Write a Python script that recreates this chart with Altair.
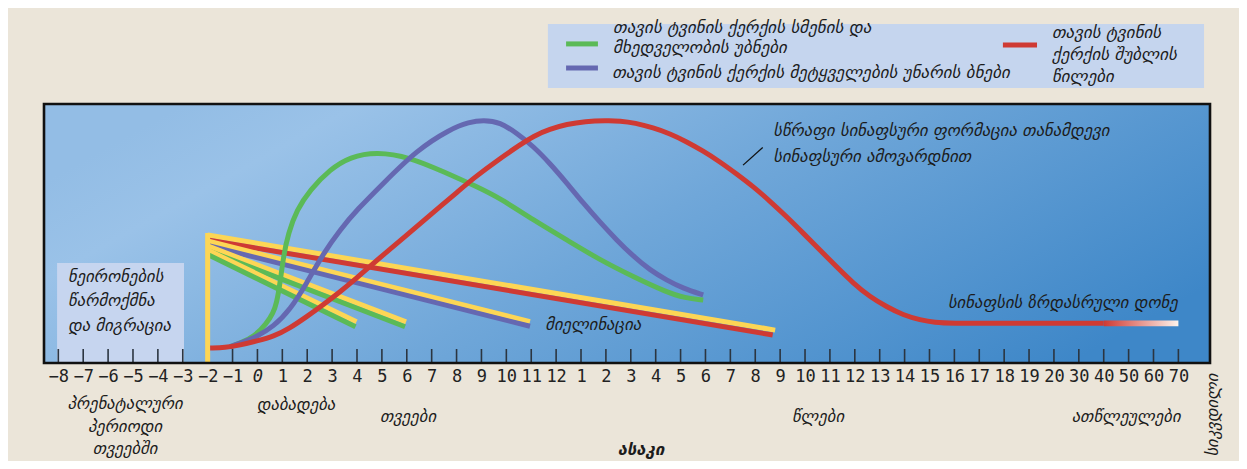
import altair as alt
import pandas as pd

# ---------------- data ----------------
TICK_LABELS = ["−8", "−7", "−6", "−5", "−4", "−3", "−2", "−1", "0",
               "1", "2", "3", "4", "5", "6", "7", "8", "9", "10", "11", "12",
               "1", "2", "3", "4", "5", "6", "7", "8", "9", "10", "11", "12", "13", "14",
               "15", "16", "17", "18", "19", "20",
               "30", "40", "50", "60", "70"]
TICK_POS = list(range(len(TICK_LABELS)))
BIRTH_POS = 8

# frontal cortex (red)
RED_X = [6.1, 6.70, 7.30, 7.98, 8.64, 9.31, 9.98, 10.63, 11.32, 11.99, 12.66, 13.33, 14.0, 14.65,
         15.33, 16.01, 16.67, 17.75, 18.55, 19.08, 19.75, 20.43, 21.16, 22.03, 22.57, 23.17, 23.90,
         24.57, 25.25, 25.90, 26.58, 27.25, 27.92, 28.59, 29.26, 29.92, 30.60, 31.27, 31.94, 32.61,
         33.28, 33.94, 34.63, 35.23, 35.83, 37.83, 42.0]
RED_Y = [5.8, 5.9, 6.9, 8.5, 10.2, 13.5, 17.9, 22.4, 27.5, 32.8, 38.5, 44.0, 49.4, 54.8,
         60.3, 65.8, 71.3, 79.0, 84.2, 87.6, 90.3, 92.2, 93.3, 93.6, 93.5, 92.7, 90.8,
         88.6, 85.4, 81.9, 77.7, 73.0, 68.1, 62.5, 56.5, 50.2, 43.6, 37.1, 30.8, 25.5,
         21.7, 18.5, 16.6, 15.6, 15.3, 15.3, 15.3]
# auditory & visual cortex (green)
GREEN_X = [6.9, 7.30, 7.90, 8.37, 8.63, 8.77, 8.91, 9.04, 9.24, 9.58, 10.11, 10.92, 11.72, 12.79,
           14.13, 15.47, 16.81, 17.75, 19.08, 20.43, 21.76, 23.10, 24.44, 25.18, 25.91]
GREEN_Y = [6.3, 7.6, 10.4, 15.3, 19.3, 23.0, 30.8, 41.0, 50.1, 59.1, 66.8, 74.8, 79.6, 81.6,
           79.4, 73.9, 68.1, 63.6, 55.2, 47.5, 39.8, 33.3, 27.3, 25.1, 24.3]
# language cortex (purple)
PURPLE_X = [6.9, 7.30, 7.94, 8.64, 9.31, 9.98, 10.65, 11.32, 11.99, 13.06, 14.40, 15.74, 16.5, 17.08,
            17.75, 18.42, 19.07, 19.75, 20.43, 21.09, 21.76, 22.43, 23.09, 23.77, 24.44, 25.11, 25.91]
PURPLE_Y = [6.3, 7.6, 10.0, 14.0, 20.5, 30.8, 42.4, 51.4, 59.1, 69.4, 82.2, 90.3, 93.0, 93.8,
            93.0, 88.7, 83.8, 77.1, 69.5, 61.7, 54.4, 47.5, 41.3, 35.9, 32.0, 28.8, 26.3]

# myelination fan (yellow + coloured pairs)
FAN_KEYS = ["yellow", "red", "yellow", "purple", "yellow", "green", "yellow", "green"]
FAN_X0 = [6, 6, 6, 6, 6, 6, 6, 6]
FAN_Y0 = [49.4, 47.5, 47.1, 45.4, 45.2, 43.4, 43.6, 41.9]
FAN_X1 = [28.8, 28.7, 18.95, 18.95, 13.97, 13.93, 11.98, 11.94]
FAN_Y1 = [12.7, 10.8, 16.0, 14.2, 15.9, 14.0, 15.9, 14.0]

# neurogenesis vertical line
NEURO_X = [6, 6]
NEURO_Y = [0, 50.2]

# adult synapse level fading out
FADE_X = [42, 45]
ADULT_LEVEL = 15.3

# texts
LEGEND_TEXT = ["თავის ტვინის ქერქის სმენის და", "მხედველობის უბნები",
               "თავის ტვინის ქერქის მეტყველების უნარის ბნები",
               "თავის ტვინის", "ქერქის შუბლის", "წილები"]
LEGEND_TX = [22.29, 22.29, 22.25, 39.92, 39.92, 39.92]
LEGEND_TY = [129.3, 121.6, 112.0, 127.4, 118.9, 110.4]
SWATCH_KEYS = ["green", "purple", "red"]
SWATCH_X0 = [20.40, 20.40, 37.95]
SWATCH_X1 = [21.68, 21.68, 39.32]
SWATCH_Y = [123.2, 113.9, 122.8]
LEGEND_BOX = dict(x=19.67, x2=46.03, y=106.2, y2=130.9)

NOTE_TEXT = ["ნეირონების", "წარმოქმნა", "და მიგრაცია", "მიელინაცია",
             "სწრაფი სინაფსური ფორმაცია თანამდევი", "სინაფსური ამოვარდნით",
             "სინაფსის ზრდასრული დონე"]
NOTE_X = [0.39, 0.39, 0.39, 19.56, 28.72, 28.72, 35.74]
NOTE_Y = [33.2, 23.9, 14.3, 14.7, 89.6, 79.5, 23.2]
NEURO_BOX = dict(x=-0.05, x2=5.05, y=0, y2=38.6)
SLASH = dict(x=27.51, x2=28.30, y=76.4, y2=83.2)

BELOW_TEXT = ["პრენატალური", "პერიოდი", "თვეებში", "დაბადება", "თვეები", "წლები", "ათწლეულები"]
BELOW_X = [2.68, 2.68, 2.68, 9.55, 14.05, 30.52, 42.9]
BELOW_Y = [-15.8, -24.7, -33.2, -16.2, -20.8, -20.8, -20.8]
DEATH = dict(text="სიკვდილი", x=46.39, y=-20.1)
AGE = dict(text="ასაკი", x=23.41, y=-33.6)

# ---------------- styling ----------------
W, H = 1166, 259
COLORS = {"red": "#cf3a33", "green": "#5bba57", "purple": "#6568b1", "yellow": "#fdd655"}
GEO_FONT = "DejaVu Sans"
TXT = "#1c1c1c"

xs = alt.Scale(domain=[-0.575, 46.27], nice=False, zero=False)
ys = alt.Scale(domain=[0, 100], nice=False, zero=False)
label_expr = "[" + ",".join("'" + t + "'" for t in TICK_LABELS) + "][datum.value]"
XAXIS = alt.Axis(values=TICK_POS, labelExpr=label_expr, ticks=False, domain=False, grid=False,
                 labelFont="DejaVu Sans Mono", labelFontSize=17, labelColor="#222",
                 labelPadding=5, labelOverlap=False, labelFlush=False, title=None,
                 labelFontStyle={"condition": {"test": f"datum.value == {BIRTH_POS}", "value": "italic"},
                                 "value": "normal"})


def X(f="x"):
    return alt.X(f"{f}:Q", scale=xs, axis=XAXIS)


def Y(f="y"):
    return alt.Y(f"{f}:Q", scale=ys, axis=None)


color_scale = alt.Scale(domain=list(COLORS.keys()), range=list(COLORS.values()))

one = pd.DataFrame({"a": [0]})

bg = alt.Chart(one).mark_rect(
    fill=alt.LinearGradient(gradient="linear", x1=0, y1=0.3, x2=1, y2=0.7,
                            stops=[alt.GradientStop(color="#93bde5", offset=0),
                                   alt.GradientStop(color="#9ac2e8", offset=0.13),
                                   alt.GradientStop(color="#70a7d9", offset=0.5),
                                   alt.GradientStop(color="#3e87c8", offset=1)])
).encode(x=alt.value(0), x2=alt.value(W), y=alt.value(0), y2=alt.value(H))

neuro_box = alt.Chart(pd.DataFrame([NEURO_BOX])).mark_rect(fill="#c6d5ef").encode(
    x=X("x"), x2="x2", y=Y("y"), y2="y2")

ticks_df = pd.DataFrame({"x": TICK_POS})
ticks = alt.Chart(ticks_df).mark_rule(color="#2b3540", strokeWidth=1.6).encode(
    x=X("x"), y=alt.value(H - 14), y2=alt.value(H))

fan_rows = []
for k, (key, x0, y0, x1, y1) in enumerate(zip(FAN_KEYS, FAN_X0, FAN_Y0, FAN_X1, FAN_Y1)):
    fan_rows.append({"id": k, "key": key, "x": x0, "y": y0})
    fan_rows.append({"id": k, "key": key, "x": x1, "y": y1})
fan = alt.Chart(pd.DataFrame(fan_rows)).mark_line(strokeWidth=5).encode(
    x=X(), y=Y(), color=alt.Color("key:N", scale=color_scale, legend=None),
    detail="id:N", order="id:Q")

neuro_line = alt.Chart(pd.DataFrame({"x": NEURO_X, "y": NEURO_Y})).mark_line(
    strokeWidth=5, color=COLORS["yellow"]).encode(x=X(), y=Y())


def curve(xv, yv, key):
    return alt.Chart(pd.DataFrame({"x": xv, "y": yv})).mark_line(
        strokeWidth=5, color=COLORS[key], interpolate="basis").encode(x=X(), y=Y())


green = curve(GREEN_X, GREEN_Y, "green")
purple = curve(PURPLE_X, PURPLE_Y, "purple")
red = curve(RED_X, RED_Y, "red")

fade = alt.Chart(pd.DataFrame({"x": [FADE_X[0]], "x2": [FADE_X[1]],
                               "y": [ADULT_LEVEL - 1.1], "y2": [ADULT_LEVEL + 1.1]})).mark_rect(
    fill=alt.LinearGradient(gradient="linear", x1=0, y1=0, x2=1, y2=0,
                            stops=[alt.GradientStop(color=COLORS["red"], offset=0),
                                   alt.GradientStop(color="#fdf3ec", offset=1)])
).encode(x=X("x"), x2="x2", y=Y("y"), y2="y2")

border = alt.Chart(one).mark_rect(fillOpacity=0, stroke="#111", strokeWidth=2.6).encode(
    x=alt.value(0), x2=alt.value(W), y=alt.value(0), y2=alt.value(H))

legend_box = alt.Chart(pd.DataFrame([LEGEND_BOX])).mark_rect(fill="#c5d5ee").encode(
    x=X("x"), x2="x2", y=Y("y"), y2="y2")
swatches = alt.Chart(pd.DataFrame({"key": SWATCH_KEYS, "x": SWATCH_X0, "x2": SWATCH_X1,
                                   "y": SWATCH_Y})).mark_rule(strokeWidth=5).encode(
    x=X("x"), x2="x2", y=Y("y"), color=alt.Color("key:N", scale=color_scale, legend=None))

text_style = dict(font=GEO_FONT, fontStyle="italic", fontSize=16.7, color=TXT, baseline="middle")
legend_txt = alt.Chart(pd.DataFrame({"t": LEGEND_TEXT, "x": LEGEND_TX, "y": LEGEND_TY})).mark_text(
    align="left", fontSize=17, font=GEO_FONT, fontStyle="italic", color=TXT, baseline="middle").encode(
    x=X(), y=Y(), text="t:N")
notes = alt.Chart(pd.DataFrame({"t": NOTE_TEXT, "x": NOTE_X, "y": NOTE_Y})).mark_text(
    align="left", **text_style).encode(x=X(), y=Y(), text="t:N")
slash = alt.Chart(pd.DataFrame([SLASH])).mark_rule(color="#111", strokeWidth=1.3).encode(
    x=X("x"), x2="x2", y=Y("y"), y2="y2")
below = alt.Chart(pd.DataFrame({"t": BELOW_TEXT, "x": BELOW_X, "y": BELOW_Y})).mark_text(
    align="center", **text_style).encode(x=X(), y=Y(), text="t:N")
death = alt.Chart(pd.DataFrame([DEATH])).mark_text(
    align="center", angle=270, **text_style).encode(x=X(), y=Y(), text="text:N")
age = alt.Chart(pd.DataFrame([AGE])).mark_text(
    align="center", fontWeight="bold", **text_style).encode(x=X(), y=Y(), text="text:N")

chart = alt.layer(
    bg, neuro_box, ticks, fan, neuro_line, green, purple, red, fade, border,
    legend_box, swatches, legend_txt, notes, slash, below, death, age
).properties(
    width=W, height=H, autosize="none",
    padding={"left": 36, "top": 96, "right": 29, "bottom": 98},
    background="#ebe5d9"
).configure_view(stroke=None)

chart.save("out.html", embed_options={"renderer": "svg", "actions": False})
